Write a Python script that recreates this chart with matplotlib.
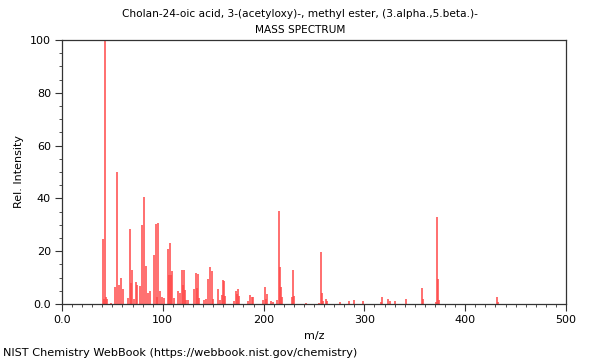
import numpy as np
import matplotlib
matplotlib.use("Agg")
import matplotlib.pyplot as plt
from matplotlib.ticker import MultipleLocator

title = "Cholan-24-oic acid, 3-(acetyloxy)-, methyl ester, (3.alpha.,5.beta.)-"
subtitle = "MASS SPECTRUM"
footer = "NIST Chemistry WebBook (https://webbook.nist.gov/chemistry)"

# m/z and relative intensity
mz = [41, 42, 43, 44, 45, 49, 53, 55, 57, 59, 61, 65, 67, 68, 69, 71, 73, 74, 77,
      79, 81, 83, 85, 87, 91, 93, 94, 95, 97, 99, 101, 105, 106, 107, 108, 109,
      111, 115, 117, 119, 120, 121, 122, 123, 125, 131, 133, 134, 135, 136,
      141, 143, 145, 147, 149, 150, 155, 157, 159, 160, 161, 162, 171, 173,
      174, 175, 176, 185, 187, 188, 189, 199, 201, 202, 203, 207, 209, 213,
      215, 216, 217, 218, 228, 229, 230, 242, 255, 257, 258, 259, 262, 263,
      276, 285, 290, 299, 316, 317, 323, 325, 330, 341, 357, 358, 371, 372,
      373, 374, 432, 433]
intensity = [24.5, 2.0, 100, 2.5, 2.0, 0.5, 6.6, 50, 7.2, 10, 5.6, 2.4, 28.5, 8, 12.9,
             2.0, 8.3, 7.3, 7.0, 30, 40.4, 14.4, 4.3, 4.9, 18.6, 30.3, 2.8, 30.8,
             4.9, 2.5, 2.2, 20.7, 11, 23.2, 11, 12.5, 2.2, 4.9, 4.3, 12.9, 7.2,
             12.8, 5.3, 1.5, 1.5, 5.6, 11.9, 5.9, 11.5, 2.2, 1.5, 2.0, 9.5, 14,
             12.6, 2.0, 5.6, 1.5, 3.5, 9.0, 8.7, 3.0, 1.0, 5.0, 3.8, 5.7, 3.0,
             1.0, 3.4, 2.8, 2.6, 1.5, 6.3, 1.8, 3.8, 1.2, 0.8, 1.5, 35.2, 14,
             6.6, 2.5, 2.5, 12.9, 3.0, 0.5, 0.5, 19.7, 4.0, 1.2, 1.9, 1.0, 0.8,
             1.0, 1.5, 1.0, 0.8, 2.5, 1.9, 1.3, 1.0, 2.0, 6.2, 2.0, 0.6, 33,
             9.5, 1.5, 2.5, 0.6]

xticks = [0, 100, 200, 300, 400, 500]
xticklabels = ["0.0", "100", "200", "300", "400", "500"]
yticks = [0, 20, 40, 60, 80, 100]
yticklabels = ["0.0", "20", "40", "60", "80", "100"]

fig = plt.figure(figsize=(6, 3.6), dpi=100)
ax = fig.add_axes([62 / 600, 1 - 304 / 360, 504 / 600, 264 / 360])

ax.vlines(mz, 0, intensity, color="#ff4848", linewidth=1.1)

ax.set_xlim(0, 500)
ax.set_ylim(0, 100)
ax.set_xticks(xticks, xticklabels)
ax.set_yticks(yticks, yticklabels)
ax.xaxis.set_minor_locator(MultipleLocator(10))
ax.yaxis.set_minor_locator(MultipleLocator(5))
ax.tick_params(which="major", length=5, width=0.8, labelsize=8, color="#333333", pad=3)
ax.tick_params(which="minor", length=2.5, width=0.6, color="#333333")
for s in ax.spines.values():
    s.set_color("#333333")
    s.set_linewidth(0.9)

ax.set_xlabel("m/z", fontsize=8)
ax.set_ylabel("Rel. Intensity", fontsize=8)

fig.text(0.5, 1 - 14 / 360, title, ha="center", va="center", fontsize=7.6)
fig.text(0.5, 1 - 30 / 360, subtitle, ha="center", va="center", fontsize=7.6)
fig.text(3 / 600, 1 - 353 / 360, footer, ha="left", va="center", fontsize=8.1)

fig.savefig("out.png", dpi=100)
